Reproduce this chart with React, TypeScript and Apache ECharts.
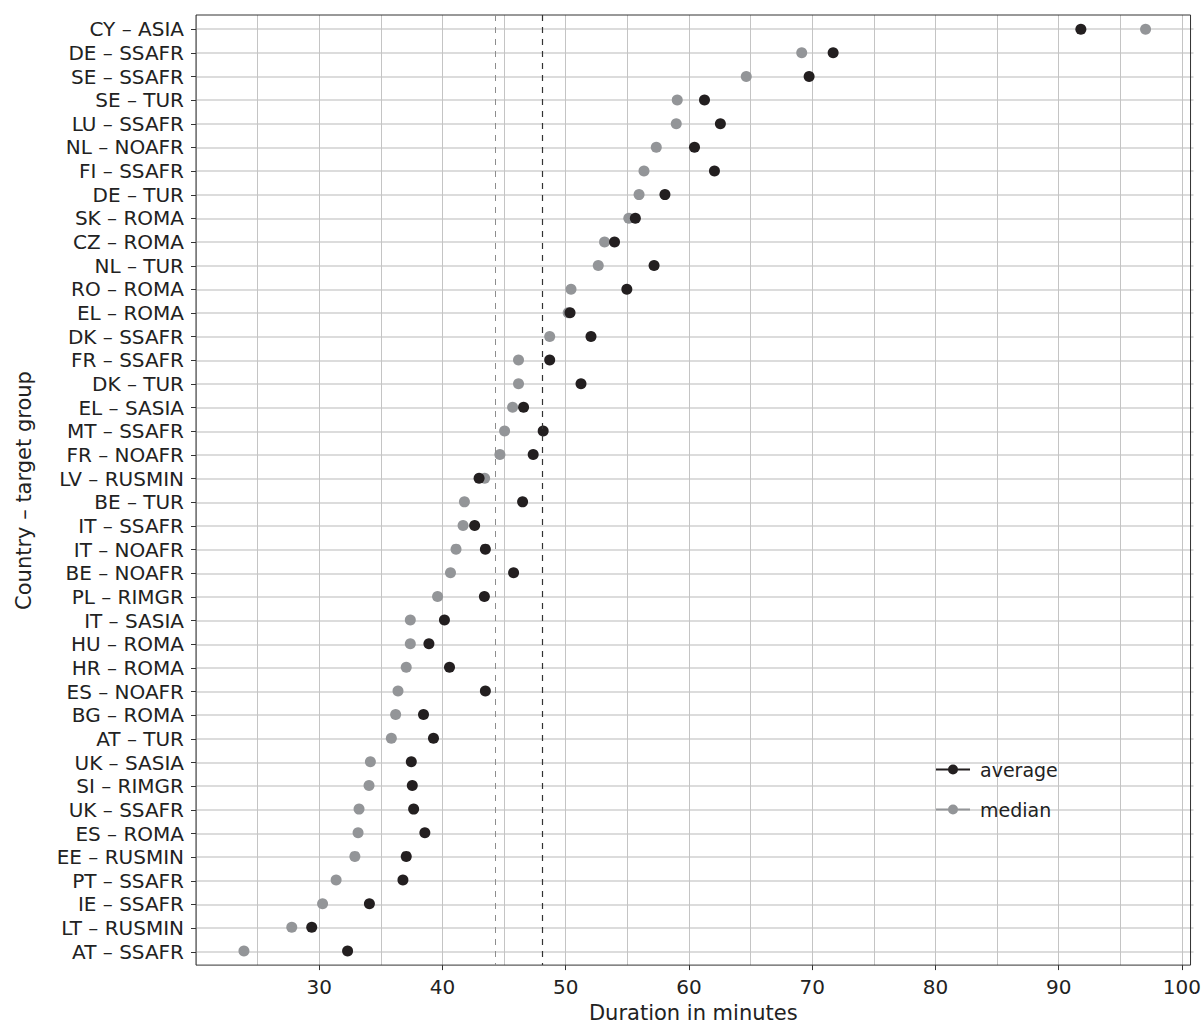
import React, { useEffect, useRef } from "react";
import * as echarts from "echarts";

const categories = [
  "CY – ASIA", "DE – SSAFR", "SE – SSAFR", "SE – TUR", "LU – SSAFR", "NL – NOAFR",
  "FI – SSAFR", "DE – TUR", "SK – ROMA", "CZ – ROMA", "NL – TUR", "RO – ROMA",
  "EL – ROMA", "DK – SSAFR", "FR – SSAFR", "DK – TUR", "EL – SASIA", "MT – SSAFR",
  "FR – NOAFR", "LV – RUSMIN", "BE – TUR", "IT – SSAFR", "IT – NOAFR", "BE – NOAFR",
  "PL – RIMGR", "IT – SASIA", "HU – ROMA", "HR – ROMA", "ES – NOAFR", "BG – ROMA",
  "AT – TUR", "UK – SASIA", "SI – RIMGR", "UK – SSAFR", "ES – ROMA", "EE – RUSMIN",
  "PT – SSAFR", "IE – SSAFR", "LT – RUSMIN", "AT – SSAFR",
];

const averageValues = [
  91.8, 71.7, 69.75, 61.26, 62.55, 60.45, 62.07, 58.05, 55.65, 53.96, 57.17, 54.96,
  50.35, 52.05, 48.7, 51.24, 46.58, 48.17, 47.36, 42.97, 46.5, 42.61, 43.48, 45.77,
  43.4, 40.16, 38.9, 40.57, 43.48, 38.46, 39.27, 37.47, 37.55, 37.66, 38.57, 37.06,
  36.79, 34.07, 29.39, 32.3,
];

const medianValues = [
  97.05, 69.15, 64.65, 59.05, 58.97, 57.35, 56.35, 55.95, 55.12, 53.15, 52.64, 50.43,
  50.2, 48.7, 46.17, 46.17, 45.69, 45.04, 44.66, 43.42, 41.78, 41.67, 41.1, 40.65,
  39.6, 37.39, 37.39, 37.06, 36.39, 36.2, 35.85, 34.15, 34.04, 33.23, 33.15, 32.89,
  31.37, 30.27, 27.77, 23.89,
];

const xTickValues = [30, 40, 50, 60, 70, 80, 90, 100];
const overallMedian = 44.28;
const overallAverage = 48.08;

const FONT = "DejaVu Sans";
const TEXT = "#222222";
const AVG_COLOR = "#231f20";
const MED_COLOR = "#939598";

const legendIcon =
  "path://M0,4.5h34v2h-34z M12,5.5a5,5 0 1,1 10,0a5,5 0 1,1 -10,0z";

export default function App() {
  const ref = useRef<HTMLDivElement>(null);

  useEffect(() => {
    if (!ref.current) return;
    const chart = echarts.init(ref.current, undefined, { renderer: "svg" });
    const n = categories.length;
    const frameTop = 15;
    const frameH = 951;
    const step = frameH / (n - 1 + 1.2);
    const option: any = {
      animation: false,
      backgroundColor: "#ffffff",
      textStyle: { fontFamily: FONT },
      grid: [
        {
          left: 196,
          top: frameTop,
          width: 997.5,
          height: frameH,
          show: true,
          borderColor: "#333333",
          borderWidth: 1,
          backgroundColor: "transparent",
          z: 5,
        },
        {
          left: 196,
          top: frameTop + 0.6 * step,
          width: 997.5,
          height: (n - 1) * step,
        },
      ],
      xAxis: [
        {
          type: "value",
          gridIndex: 0,
          min: 20,
          max: 100.7,
          interval: 5,
          axisLine: { show: false },
          axisTick: { show: false },
          axisLabel: { show: false },
          splitLine: { show: true, lineStyle: { color: "#c4c4c4", width: 1 } },
        },
        {
          type: "value",
          gridIndex: 0,
          min: 20,
          max: 100.7,
          interval: 10,
          position: "bottom",
          name: "Duration in minutes",
          nameLocation: "middle",
          nameGap: 36,
          nameTextStyle: { fontSize: 21, color: TEXT, fontFamily: FONT },
          axisLine: { show: false },
          axisTick: {
            show: true,
            length: 5,
            customValues: xTickValues,
            lineStyle: { color: "#333333", width: 1 },
          },
          axisLabel: {
            show: true,
            margin: 12,
            fontSize: 20,
            color: TEXT,
            fontFamily: FONT,
            customValues: xTickValues,
            formatter: (v: number) =>
              xTickValues.indexOf(Math.round(v * 1000) / 1000) >= 0 ? String(v) : "",
          },
          splitLine: { show: false },
        },
        {
          type: "value",
          gridIndex: 1,
          min: 0,
          max: 1,
          show: false,
        },
      ],
      yAxis: [
        {
          type: "value",
          gridIndex: 0,
          min: -0.6,
          max: n - 1 + 0.6,
          inverse: true,
          show: false,
        },
        {
          type: "category",
          gridIndex: 1,
          data: categories,
          inverse: true,
          boundaryGap: false,
          name: "Country – target group",
          nameLocation: "middle",
          nameRotate: 90,
          nameGap: 162,
          nameTextStyle: { fontSize: 21, color: TEXT, fontFamily: FONT },
          axisLine: { show: false },
          axisTick: {
            show: true,
            interval: 0,
            length: 5,
            lineStyle: { color: "#333333", width: 1 },
          },
          axisLabel: {
            show: true,
            interval: 0,
            margin: 12,
            fontSize: 20,
            lineHeight: 20,
            color: TEXT,
            fontFamily: FONT,
          },
          splitLine: {
            show: true,
            interval: 0,
            lineStyle: { color: "#d0d0d0", width: 1.5 },
          },
        },
      ],
      legend: {
        show: true,
        orient: "vertical",
        left: 936,
        top: 760,
        itemWidth: 34,
        itemHeight: 11,
        itemGap: 21,
        padding: 0,
        icon: legendIcon,
        data: ["average", "median"],
        textStyle: { fontSize: 19, color: TEXT, fontFamily: FONT, padding: [0, 0, 0, 5] },
      },
      series: [
        {
          name: "median",
          type: "scatter",
          xAxisIndex: 0,
          yAxisIndex: 0,
          symbol: "circle",
          symbolSize: 11,
          itemStyle: { color: MED_COLOR, opacity: 1 },
          data: medianValues.map((v, i) => [v, i]),
          markLine: {
            silent: true,
            symbol: "none",
            label: { show: false },
            lineStyle: { color: "#8d8d8d", type: [6, 6], width: 1, opacity: 1 },
            data: [{ xAxis: overallMedian }],
          },
          z: 3,
        },
        {
          name: "average",
          type: "scatter",
          xAxisIndex: 0,
          yAxisIndex: 0,
          symbol: "circle",
          symbolSize: 11,
          itemStyle: { color: AVG_COLOR, opacity: 1 },
          data: averageValues.map((v, i) => [v, i]),
          markLine: {
            silent: true,
            symbol: "none",
            label: { show: false },
            lineStyle: { color: "#333333", type: [6, 6], width: 1.2, opacity: 1 },
            data: [{ xAxis: overallAverage }],
          },
          z: 4,
        },
      ],
    };
    chart.setOption(option);
    return () => chart.dispose();
  }, []);

  return (
    <div
      ref={ref}
      style={{ position: "fixed", left: 0, top: 0, width: "1204px", height: "1028px" }}
    />
  );
}
